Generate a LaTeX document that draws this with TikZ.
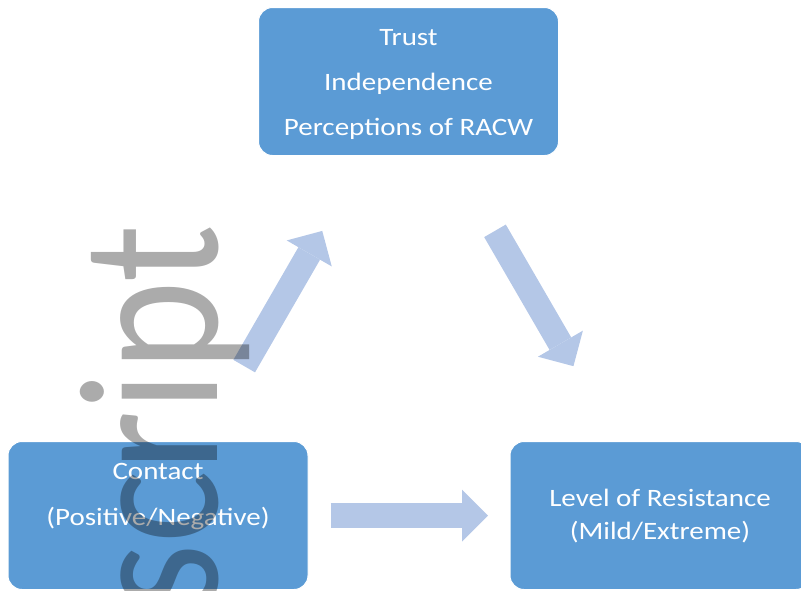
\documentclass[tikz,border=0pt]{standalone}
\usepackage{fontspec}
\setmainfont{Carlito}
\usepackage{xcolor}
\usetikzlibrary{positioning}
\usetikzlibrary{arrows.meta}
\definecolor{boxblue}{HTML}{5B9BD5}
\definecolor{arrowblue}{HTML}{B4C7E7}
\tikzstyle{box}=[rectangle, rounded corners=14pt, fill=boxblue, draw=white, line width=1pt, minimum width=300pt, minimum height=148pt]
\tikzstyle{boxtext}=[text=white, align=center, xscale=1.16]
\tikzstyle{flow}=[draw=arrowblue, line width=25pt, -{Triangle[length=26pt, width=52pt, line width=0pt]}]
\tikzstyle{wmark}=[text=black, text opacity=0.33, xscale=1.16, rotate=90, anchor=base east, font=\fontsize{172}{172}\selectfont]

\begin{document}
\begin{tikzpicture}[x=1pt, y=-1pt, node distance=201pt]
    \useasboundingbox (0,0) rectangle (801,590);
    \node[box]  (contact)                                            at (158,515.5) {};
    \node[box]  (resist)  [right = of contact]                       {};
    \node[box]  (trust)   [above = 285pt of contact, xshift=250.5pt] {};

    \node[boxtext, font=\fontsize{25}{45}\selectfont] (trusttext)   at ([yshift=-3pt]trust.center)   {Trust\\Independence\\Perceptions of RACW};
    \node[boxtext, font=\fontsize{25}{46}\selectfont] (contacttext) at ([yshift=18.5pt]contact.center) {Contact\\(Positive/Negative)};
    \node[boxtext, font=\fontsize{25}{33}\selectfont] (resisttext)  at ([yshift=-1pt]resist.center)  {Level of Resistance\\(Mild/Extreme)};

    \draw[flow, shorten <=86.5pt, shorten >=86.5pt] (contact) -- (trust);
    \draw[flow, shorten <=86.5pt, shorten >=86.5pt] (trust)   -- (resist);
    \draw[flow, shorten <=22pt,   shorten >=21.5pt] (contact) -- (resist);

    % watermark left over from the page
    \node[wmark] (watermark) at (217,221) {script};
  \end{tikzpicture}
\end{document}
